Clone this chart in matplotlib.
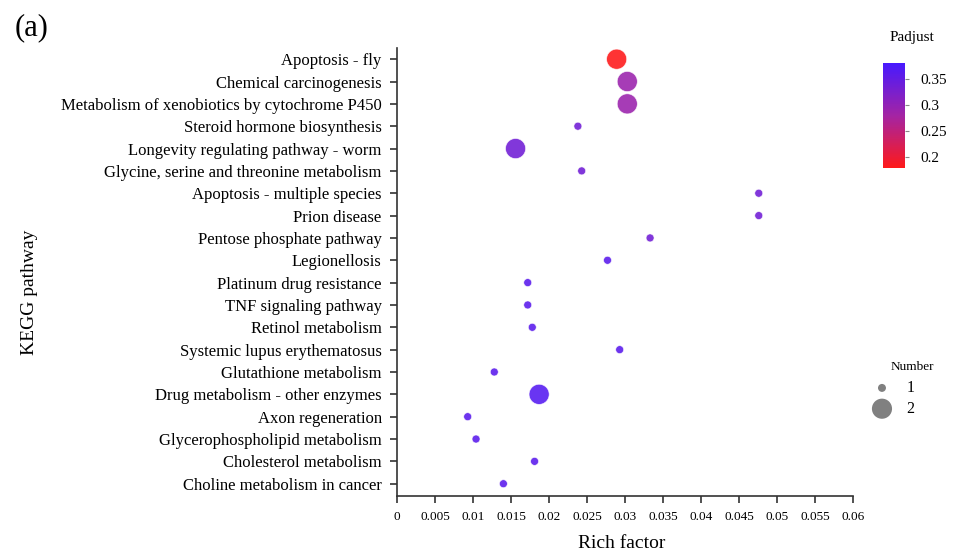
import matplotlib
matplotlib.use("Agg")
import matplotlib.pyplot as plt
import numpy as np
from matplotlib.colors import LinearSegmentedColormap, Normalize
from matplotlib.cm import ScalarMappable

plt.rcParams['font.family'] = ['Liberation Serif', 'DejaVu Serif']

pathways = [
    "Apoptosis - fly",
    "Chemical carcinogenesis",
    "Metabolism of xenobiotics by cytochrome P450",
    "Steroid hormone biosynthesis",
    "Longevity regulating pathway - worm",
    "Glycine, serine and threonine metabolism",
    "Apoptosis - multiple species",
    "Prion disease",
    "Pentose phosphate pathway",
    "Legionellosis",
    "Platinum drug resistance",
    "TNF signaling pathway",
    "Retinol metabolism",
    "Systemic lupus erythematosus",
    "Glutathione metabolism",
    "Drug metabolism - other enzymes",
    "Axon regeneration",
    "Glycerophospholipid metabolism",
    "Cholesterol metabolism",
    "Choline metabolism in cancer",
]
rich_factor = [0.0289, 0.0303, 0.0303, 0.0238, 0.0156, 0.0243, 0.0476, 0.0476,
               0.0333, 0.0277, 0.0172, 0.0172, 0.0178, 0.0293, 0.0128, 0.0187,
               0.0093, 0.0104, 0.0181, 0.0140]
padjust = [0.18, 0.29, 0.29, 0.335, 0.335, 0.335, 0.335, 0.335,
           0.335, 0.36, 0.36, 0.36, 0.36, 0.36, 0.36, 0.365,
           0.36, 0.36, 0.36, 0.36]
number = [2, 2, 2, 1, 2, 1, 1, 1, 1, 1, 1, 1, 1, 1, 1, 2, 1, 1, 1, 1]

xticks = np.arange(0, 0.0601, 0.005)
xtick_labels = ["0", "0.005", "0.01", "0.015", "0.02", "0.025", "0.03",
                "0.035", "0.04", "0.045", "0.05", "0.055", "0.06"]

cmap = LinearSegmentedColormap.from_list("rb", ["#FF0000", "#9A0C9A", "#3300FF"])
norm = Normalize(vmin=0.179, vmax=0.381)
size_map = {1: 33, 2: 210}

fig = plt.figure(figsize=(9.55, 5.52), dpi=100)
ax = fig.add_axes([397 / 955, 1 - 496 / 552, 456 / 955, 448 / 552])

ypos = np.arange(len(pathways))
ax.scatter(rich_factor, ypos, s=[size_map[n] for n in number], c=padjust,
           cmap=cmap, norm=norm, alpha=0.8, edgecolors='white', linewidths=0.5,
           zorder=3)

ax.set_ylim(len(pathways) - 0.45, -0.5)
ax.set_yticks(ypos)
ax.set_yticklabels(pathways, fontsize=12)
ax.set_xlim(0, 0.06)
ax.set_xticks(xticks)
ax.set_xticklabels(xtick_labels, fontsize=9.5)

for s in ['top', 'right']:
    ax.spines[s].set_visible(False)
for s in ['left', 'bottom']:
    ax.spines[s].set_color('#333333')
    ax.spines[s].set_linewidth(1.2)
ax.tick_params(axis='both', colors='#333333', length=5, width=1.2)
ax.tick_params(axis='y', labelcolor='black', pad=6)
ax.tick_params(axis='x', labelcolor='black', pad=6)

fig.text(622 / 955, 1 - 543 / 552, "Rich factor", fontsize=14,
         ha='center', va='center')
fig.text(30 / 955, 1 - 292 / 552, "KEGG pathway", fontsize=14,
         ha='center', va='center', rotation=90)
fig.text(15 / 955, 1 - 28 / 552, "(a)", fontsize=22, ha='left', va='center')

# colorbar
cax = fig.add_axes([883 / 955, 1 - 168 / 552, 22 / 955, 105 / 552])
sm = ScalarMappable(norm=norm, cmap=cmap)
cb = fig.colorbar(sm, cax=cax, ticks=[0.2, 0.25, 0.3, 0.35])
cb.solids.set_alpha(0.9)
cb.outline.set_visible(False)
cb.ax.set_yticklabels(["0.2", "0.25", "0.3", "0.35"])
cb.ax.tick_params(length=3, color='#888888', labelsize=11, pad=8)
fig.text(912 / 955, 1 - 37 / 552, "Padjust", fontsize=11, ha='center', va='center')

# size legend
handles = [ax.scatter([], [], s=size_map[n], color='#808080', edgecolors='none')
           for n in [1, 2]]
fig.legend(handles, ["1", "2"], loc='center left',
           bbox_to_anchor=(870 / 955, 1 - 398.5 / 552), frameon=False,
           fontsize=11.5, handlelength=1.5, handletextpad=0.8,
           labelspacing=0.3, borderpad=0, borderaxespad=0)
fig.text(912 / 955, 1 - 367 / 552, "Number", fontsize=9.5, ha='center', va='center')

fig.savefig("out.png", dpi=100)
